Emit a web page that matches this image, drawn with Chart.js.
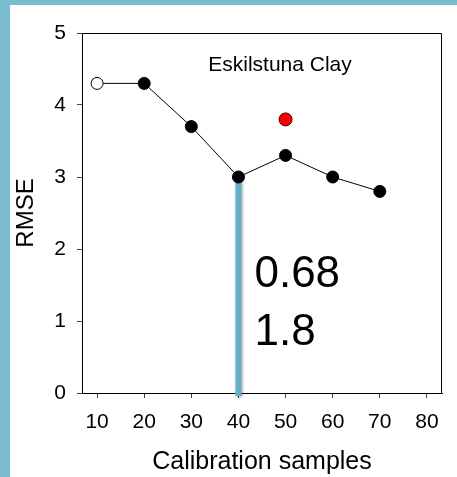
<!DOCTYPE html>
<html>
<head>
<meta charset="utf-8">
<script src="https://cdn.jsdelivr.net/npm/chart.js@4.4.0/dist/chart.umd.min.js"></script>
<style>
    html, body { margin: 0; padding: 0; background: #fff; }
    #wrap { width: 457px; height: 477px; }
</style>
</head>
<body>
<div id="wrap"><canvas id="rmseChart" width="457" height="477"></canvas></div>
<script>
// ---------------- DATOS ----------------
const muestras = [10, 20, 30, 40, 50, 60, 70];
const rmse = [4.3, 4.3, 3.7, 3.0, 3.3, 3.0, 2.8];
const puntoRojo = [{ x: 50, y: 3.8 }];
const corte = [{ x: 40, y: 3.0 }, { x: 40, y: 0 }];
const ticksX = [10, 20, 30, 40, 50, 60, 70, 80];
const ticksY = [0, 1, 2, 3, 4, 5];
const titulo = 'Eskilstuna Clay';
const valores = ['0.68', '1.8'];

const fuente = "'Liberation Sans', Arial, sans-serif";

// fondo azul con panel blanco, marco del gráfico y textos sueltos
const decoracion = {
    id: 'decoracion',
    beforeDraw(chart) {
        const ctx = chart.ctx;
        ctx.save();
        ctx.fillStyle = '#79bdcf';
        ctx.fillRect(0, 0, chart.width, chart.height);
        ctx.fillStyle = '#ffffff';
        ctx.fillRect(10, 5, chart.width - 10, chart.height - 5);
        ctx.restore();
    },
    afterDraw(chart) {
        const { ctx, chartArea: a, scales } = chart;
        ctx.save();
        ctx.strokeStyle = '#000';
        ctx.lineWidth = 1;
        ctx.beginPath();
        ctx.moveTo(a.left, a.top + 0.5);
        ctx.lineTo(a.right - 0.5, a.top + 0.5);
        ctx.lineTo(a.right - 0.5, a.bottom);
        ctx.stroke();

        ctx.fillStyle = '#000';
        ctx.textBaseline = 'alphabetic';
        ctx.textAlign = 'center';
        ctx.font = '21px ' + fuente;
        ctx.fillText(titulo, (a.left + a.right) / 2 + 18, a.top + 38);

        ctx.textAlign = 'left';
        ctx.font = '44px ' + fuente;
        const x = scales.x.getPixelForValue(40) + 16;
        ctx.fillText(valores[0], x, scales.y.getPixelForValue(1.47));
        ctx.fillText(valores[1], x, scales.y.getPixelForValue(0.67));
        ctx.restore();
    }
};

// sombra de la línea azul
const sombra = {
    id: 'sombra',
    beforeDatasetDraw(chart, args) {
        if (args.index !== 0) return;
        const ctx = chart.ctx;
        ctx.save();
        ctx.shadowColor = 'rgba(0,0,0,0.35)';
        ctx.shadowBlur = 3;
        ctx.shadowOffsetX = 1;
        ctx.shadowOffsetY = 1;
    },
    afterDatasetDraw(chart, args) {
        if (args.index !== 0) return;
        chart.ctx.restore();
    }
};

const ctx = document.getElementById('rmseChart').getContext('2d');

new Chart(ctx, {
    type: 'scatter',
    data: {
        datasets: [
            {
                data: corte,
                showLine: true,
                borderColor: '#62b1c9',
                borderWidth: 6,
                borderCapStyle: 'square',
                pointRadius: 0,
                clip: false,
                order: 3
            },
            {
                data: muestras.map((m, i) => ({ x: m, y: rmse[i] })),
                showLine: true,
                borderColor: '#000',
                borderWidth: 1,
                pointRadius: 6,
                pointBorderWidth: 1,
                pointBorderColor: '#000',
                pointBackgroundColor: muestras.map((m, i) => i === 0 ? '#fff' : '#000'),
                order: 1
            },
            {
                data: puntoRojo,
                pointRadius: 6.5,
                pointBorderWidth: 1,
                pointBorderColor: '#400',
                pointBackgroundColor: '#ff0000',
                order: 0
            }
        ]
    },
    options: {
        responsive: false,
        animation: false,
        events: [],
        layout: { padding: { left: 0, top: 33, right: 15, bottom: 0 } },
        plugins: { legend: { display: false }, tooltip: { enabled: false } },
        scales: {
            x: {
                type: 'linear',
                min: 6.8,
                max: 83.2,
                afterBuildTicks: s => { s.ticks = ticksX.map(v => ({ value: v })); },
                afterFit: s => { s.height = 84; },
                grid: { drawOnChartArea: false, drawTicks: true, tickLength: 5, color: '#444' },
                border: { display: true, color: '#000', width: 1 },
                ticks: { color: '#000', padding: 12, font: { family: fuente, size: 21 } },
                title: {
                    display: true,
                    text: 'Calibration samples',
                    color: '#000',
                    padding: { top: 0, bottom: 0 },
                    font: { family: fuente, size: 25 }
                }
            },
            y: {
                min: 0,
                max: 5,
                afterBuildTicks: s => { s.ticks = ticksY.map(v => ({ value: v })); },
                afterFit: s => { s.width = 82; },
                grid: { drawOnChartArea: false, drawTicks: true, tickLength: 5, color: '#444' },
                border: { display: true, color: '#000', width: 1 },
                ticks: { color: '#000', padding: 11, font: { family: fuente, size: 21 } },
                title: {
                    display: true,
                    text: 'RMSE',
                    color: '#000',
                    padding: { top: 12, bottom: 0 },
                    font: { family: fuente, size: 24 }
                }
            }
        }
    },
    plugins: [decoracion, sombra]
});
</script>
</body>
</html>
